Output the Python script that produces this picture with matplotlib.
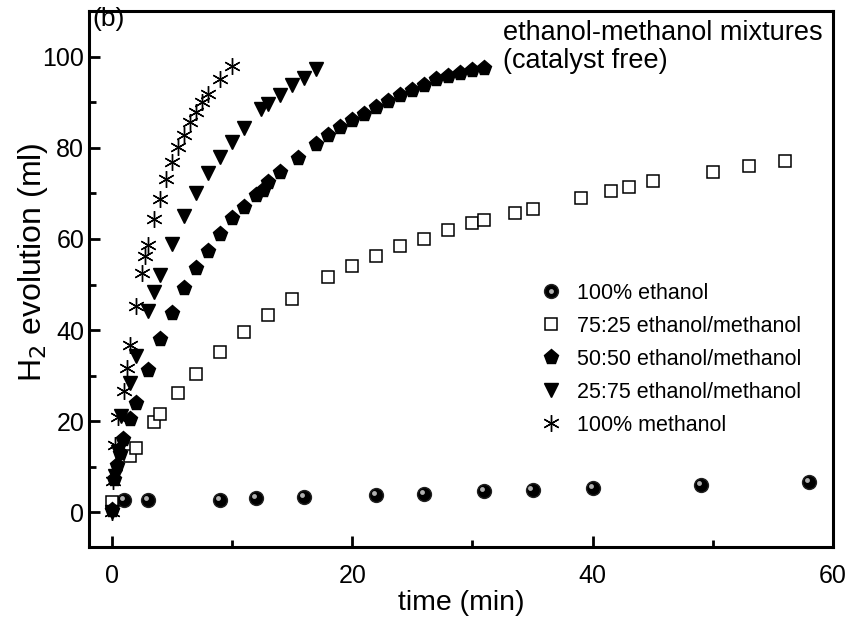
import matplotlib
matplotlib.use('Agg')
import matplotlib.pyplot as plt
import matplotlib.transforms as mtransforms
from matplotlib.ticker import MultipleLocator
from matplotlib.legend_handler import HandlerTuple

plt.rcParams['font.family'] = ['Liberation Sans', 'DejaVu Sans']

# data (time in min, H2 in ml)
ethanol_t = [1, 3, 9, 12, 16, 22, 26, 31, 35, 40, 49, 58]
ethanol_h2 = [2.8, 2.8, 2.7, 3.2, 3.3, 3.9, 4.1, 4.6, 4.9, 5.4, 6.1, 6.7]

mix75_t = [0, 1.5, 2, 3.5, 4, 5.5, 7, 9, 11, 13, 15, 18, 20, 22, 24, 26, 28,
           30, 31, 33.5, 35, 39, 41.5, 43, 45, 50, 53, 56]
mix75_h2 = [2.3, 12.4, 14.2, 19.9, 21.6, 26.2, 30.3, 35.2, 39.6, 43.4, 46.9,
            51.7, 54.1, 56.3, 58.4, 60.0, 61.9, 63.5, 64.2, 65.7, 66.6, 69.1,
            70.6, 71.4, 72.7, 74.7, 76.1, 77.1]

mix50_t = [0, 0.2, 0.45, 0.65, 0.95, 1.5, 2, 3, 4, 5, 6, 7, 8, 9, 10, 11, 12,
           12.6, 13, 14, 15.5, 17, 18, 19, 20, 21, 22, 23, 24, 25, 26, 27, 28,
           29, 30, 31]
mix50_h2 = [0.5, 7.4, 10.3, 13.1, 16.2, 20.5, 24.0, 31.2, 38.0, 43.7, 49.2,
            53.6, 57.4, 61.2, 64.5, 67.0, 69.6, 70.7, 72.6, 74.7, 77.8, 80.8,
            82.8, 84.6, 86.1, 87.5, 88.9, 90.2, 91.5, 92.7, 93.7, 95.1, 95.8,
            96.5, 97.0, 97.6]

mix25_t = [0, 0.25, 0.5, 0.8, 1.5, 2, 3, 3.5, 4, 5, 6, 7, 8, 9, 10, 11, 12.4,
           13, 14, 15, 16, 17]
mix25_h2 = [0, 8.0, 13.3, 21.2, 28.5, 34.3, 44.3, 48.3, 52.2, 59.0, 65.1, 70.1,
            74.4, 78.0, 81.3, 84.4, 88.6, 89.6, 91.6, 93.7, 95.4, 97.2]

methanol_t = [0, 0.1, 0.25, 0.5, 1, 1.25, 1.5, 2, 2.5, 2.75, 3, 3.5, 4, 4.5,
              5, 5.5, 6, 6.5, 7, 7.5, 8, 9, 10]
methanol_h2 = [0, 6.8, 14.7, 20.9, 26.6, 31.7, 36.7, 45.2, 52.5, 56.2, 58.7,
               64.4, 68.8, 73.2, 76.8, 80.2, 82.9, 85.6, 87.8, 90.0, 91.8,
               95.1, 97.9]

labels = ['100% ethanol', '75:25 ethanol/methanol', '50:50 ethanol/methanol',
          '25:75 ethanol/methanol', '100% methanol']

fig = plt.figure(figsize=(8.52, 6.2), dpi=100)
ax = fig.add_axes([0.1045, 0.1177, 0.8732, 0.8643])

# shaded spheres: black ball plus a small grey highlight
sph, = ax.plot(ethanol_t, ethanol_h2, 'o', ms=10, color='black', mec='#222222',
               ls='none')
off = mtransforms.ScaledTranslation(-1.5/72, 1.5/72, fig.dpi_scale_trans)
hl, = ax.plot(ethanol_t, ethanol_h2, 'o', ms=3.5, color='#b0b0b0', mec='none',
              ls='none', transform=ax.transData + off)

sq, = ax.plot(mix75_t, mix75_h2, 's', ms=8.5, mfc='white', mec='black',
              mew=1.1, ls='none')
pent, = ax.plot(mix50_t, mix50_h2, 'p', ms=11, color='black', ls='none')
tri, = ax.plot(mix25_t, mix25_h2, 'v', ms=10, color='black', ls='none')
ast, = ax.plot(methanol_t, methanol_h2, marker=(6, 2, 0), ms=12, color='black',
               mew=1.0, ls='none')

ax.set_xlim(-1.9, 60)
ax.set_ylim(-7.6, 110)
ax.xaxis.set_major_locator(MultipleLocator(20))
ax.xaxis.set_minor_locator(MultipleLocator(10))
ax.yaxis.set_major_locator(MultipleLocator(20))
ax.yaxis.set_minor_locator(MultipleLocator(10))
ax.tick_params(which='both', direction='in', top=False, right=False,
               labelsize=18, width=2)
ax.tick_params(which='major', length=8)
ax.tick_params(axis='x', which='both', pad=12)
ax.tick_params(which='minor', length=5)
for s in ax.spines.values():
    s.set_linewidth(2.2)

ax.set_xlabel('time (min)', fontsize=20.5, labelpad=2)
ax.set_ylabel('H$_2$ evolution (ml)', fontsize=23)
ax.yaxis.set_label_coords(-0.053, 0.532)

ax.text(0.005, 1.008, '(b)', transform=ax.transAxes, fontsize=19,
        ha='left', va='top')
ax.text(0.556, 0.983, 'ethanol-methanol mixtures\n(catalyst free)',
        transform=ax.transAxes, fontsize=19.5, ha='left', va='top',
        linespacing=1.1)

ax.legend([(sph, hl), sq, pent, tri, ast], labels,
          handler_map={tuple: HandlerTuple(ndivide=1)},
          loc='upper left', bbox_to_anchor=(0.603, 0.4935), frameon=False,
          fontsize=15.5, handlelength=1.2, handletextpad=0.62,
          labelspacing=0.56, borderpad=0, borderaxespad=0)

fig.savefig('out.png', dpi=100)
